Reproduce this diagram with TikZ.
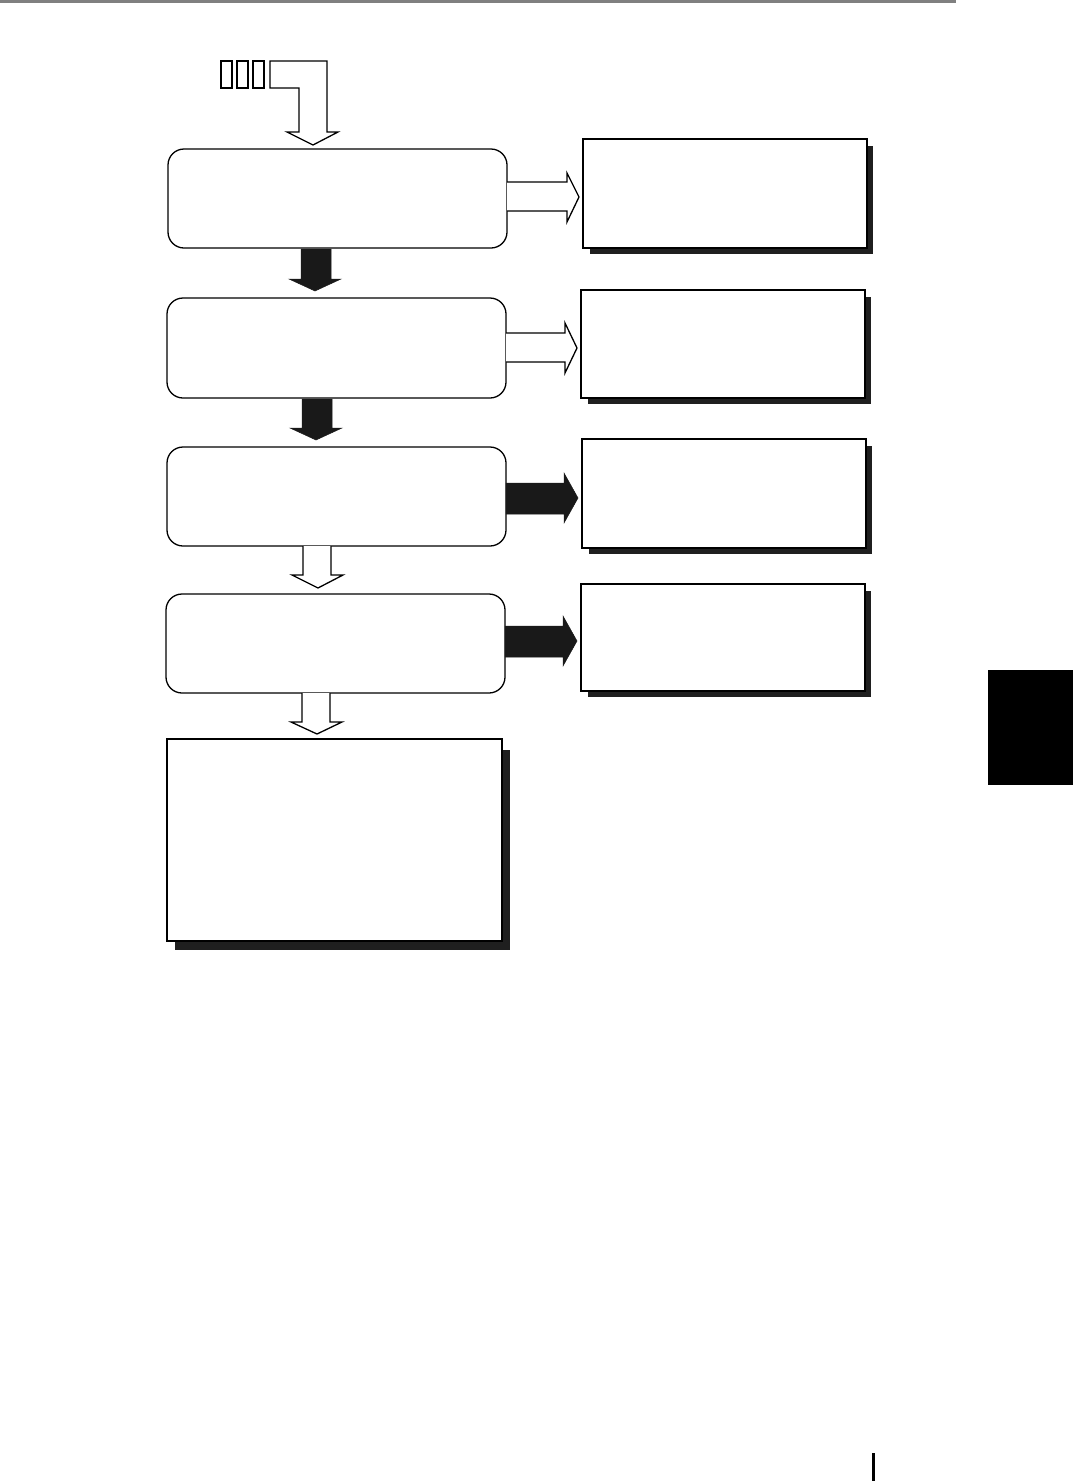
\documentclass[tikz,border=0pt]{standalone}
\begin{document}
\begin{tikzpicture}[x=1pt,y=-1pt,
  line join=miter,
  rbox/.style={draw=black,line width=1.3pt,rounded corners=16pt,fill=white},
  sbox/.style={draw=black,line width=1.3pt,fill=white},
  shadow/.style={fill=black!88},
  hollow/.style={draw=black,line width=1.3pt,fill=white},
  solid/.style={fill=black!90,draw=black!90,line width=0.5pt}]
\useasboundingbox (0,0) rectangle (1073,1481);
% page decorations
\fill[black!50] (0,0) rectangle (956,3);
\fill[black] (988,670) rectangle (1073,785);
\fill[black] (872,1453) rectangle (874.5,1481);

% input arrow with three small boxes
\draw[line width=1.1pt] (221,61) rectangle (232,88) coordinate (r1);
\draw[line width=1.1pt] (237,61) rectangle (248,88) coordinate (r2);
\draw[line width=1.1pt] (253,61) rectangle (264,88) coordinate (r3);
\draw[hollow] (270,61) -- (327,61) -- (327,132) -- (338,132) -- (313,145) -- (287,132) -- (299,132) -- (299,88) -- (270,88) -- cycle;

% left rounded boxes
\draw[rbox] (168,149) rectangle (507,248); \node (a1) at (337,198) {};
\draw[rbox] (167,298) rectangle (506,398); \node (a2) at (336,348) {};
\draw[rbox] (167,447) rectangle (506,546); \node (a3) at (336,496) {};
\draw[rbox] (166,594) rectangle (505,693); \node (a4) at (335,643) {};

% right shadowed boxes
\fill[shadow] (590,146) rectangle (873,254);
\draw[sbox] (583,139) rectangle (867,248); \node (b1) at (725,193) {};
\fill[shadow] (588,297) rectangle (871,404);
\draw[sbox] (581,290) rectangle (865,398); \node (b2) at (723,344) {};
\fill[shadow] (589,446) rectangle (872,554);
\draw[sbox] (582,439) rectangle (866,548); \node (b3) at (724,493) {};
\fill[shadow] (588,591) rectangle (871,697);
\draw[sbox] (581,584) rectangle (865,691); \node (b4) at (723,637) {};

% bottom box
\fill[shadow] (175,750) rectangle (510,950);
\draw[sbox] (167,739) rectangle (502,941); \node (c) at (334,840) {};

% hollow right arrows
\draw[hollow] (507,182) -- (567,182) -- (567,173) -- (579,197) -- (567,222) -- (567,211) -- (507,211);
\draw[hollow] (506,333) -- (565,333) -- (565,323) -- (577,348) -- (565,373) -- (565,362) -- (506,362);
% black right arrows
\fill[solid] (506,483) -- (564,483) -- (564,473) -- (578,498) -- (564,523) -- (564,514) -- (506,514) -- cycle;
\fill[solid] (505,626) -- (563,626) -- (563,616) -- (577,641) -- (563,666) -- (563,657) -- (505,657) -- cycle;

% black down arrows
\fill[solid] (301,249) -- (331,249) -- (331,279) -- (341,279) -- (315,291) -- (289,279) -- (301,279) -- cycle;
\fill[solid] (302,399) -- (332,399) -- (332,428) -- (342,428) -- (316,440) -- (290,428) -- (302,428) -- cycle;
% hollow down arrows
\draw[hollow] (303,546) -- (303,575) -- (292,575) -- (318,588) -- (343,575) -- (331,575) -- (331,546);
\draw[hollow] (302,693) -- (302,722) -- (291,722) -- (317,734) -- (342,722) -- (330,722) -- (330,693);
\end{tikzpicture}
\end{document}
